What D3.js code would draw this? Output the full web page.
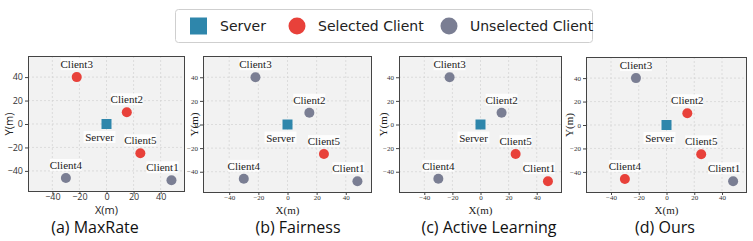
<!DOCTYPE html>
<html>
<head>
<meta charset="utf-8">
<script src="https://cdn.jsdelivr.net/npm/d3@7"></script>
<style>
  body { margin: 0; background: #fff; }
  svg { display: block; }
</style>
</head>
<body>
<div id="chart"></div>
<script>
// client positions (metres)
var clientNames = ["Client1", "Client2", "Client3", "Client4", "Client5"];
var clientX = [48, 15, -22, -30, 25];
var clientY = [-48, 10, 40, -46, -25];
var serverPos = [0, 0];

// which clients each method picks
var methods = ["(a) MaxRate", "(b) Fairness", "(c) Active Learning", "(d) Ours"];
var selected = [
  ["Client2", "Client3", "Client5"],
  ["Client5"],
  ["Client1", "Client5"],
  ["Client2", "Client4", "Client5"]
];
var ticks = [-40, -20, 0, 20, 40];
var legendLabels = ["Server", "Selected Client", "Unselected Client"];

var serverColor = "#2e86ab";
var selColor = "#e8413a";
var unselColor = "#7a7e93";
var serif = "'Liberation Serif', 'DejaVu Serif', serif";
var sans = "'Open Sans', 'DejaVu Sans', sans-serif";

// panel boxes in pixels
var panels = [
  {l: 28, r: 185, t: 56, b: 192, font: sans, tickSize: 9, labSize: 11, ylab: 19},
  {l: 203, r: 372, t: 56, b: 193, font: serif, tickSize: 7, labSize: 11, ylab: 9},
  {l: 399, r: 562, t: 56, b: 193, font: serif, tickSize: 7, labSize: 11, ylab: 16},
  {l: 586, r: 747, t: 57, b: 193, font: serif, tickSize: 7, labSize: 11, ylab: 17}
];
var captionX = [95, 298, 489, 665];

var svg = d3.select("#chart").append("svg")
  .attr("width", 753).attr("height", 241);

// legend
var lg = svg.append("g");
lg.append("rect")
  .attr("x", 175.5).attr("y", 9.5).attr("width", 417).attr("height", 33)
  .attr("rx", 3).attr("fill", "#fff").attr("stroke", "#cfcfcf");
var legX = [190, 288, 440];
var legTextX = [220, 318, 470];
lg.append("rect").attr("x", legX[0]).attr("y", 17.5).attr("width", 17).attr("height", 17)
  .attr("fill", serverColor);
lg.append("circle").attr("cx", legX[1] + 9).attr("cy", 26).attr("r", 8.5).attr("fill", selColor);
lg.append("circle").attr("cx", legX[2] + 9).attr("cy", 26).attr("r", 8.5).attr("fill", unselColor);
lg.selectAll("text.leg")
  .data(legendLabels)
  .enter().append("text")
  .attr("class", "leg")
  .attr("x", (d, i) => legTextX[i])
  .attr("y", 31)
  .attr("font-family", "'DejaVu Sans', sans-serif")
  .attr("font-size", "14px")
  .attr("fill", "#222")
  .text(d => d);

methods.forEach(function(m, k) {
  var p = panels[k];
  var x = d3.scaleLinear().domain([-58, 58]).range([p.l, p.r]);
  var y = d3.scaleLinear().domain([-58, 58]).range([p.b, p.t]);
  var g = svg.append("g");

  g.append("rect")
    .attr("x", p.l).attr("y", p.t).attr("width", p.r - p.l).attr("height", p.b - p.t)
    .attr("fill", "#f2f2f2");

  // dashed grid
  g.selectAll("line.gx").data(ticks).enter().append("line")
    .attr("x1", d => x(d)).attr("x2", d => x(d)).attr("y1", p.t).attr("y2", p.b)
    .attr("stroke", "#d2d2d2").attr("stroke-width", 0.7).attr("stroke-dasharray", "2,2");
  g.selectAll("line.gy").data(ticks).enter().append("line")
    .attr("y1", d => y(d)).attr("y2", d => y(d)).attr("x1", p.l).attr("x2", p.r)
    .attr("stroke", "#d2d2d2").attr("stroke-width", 0.7).attr("stroke-dasharray", "2,2");

  var xAxis = g.append("g").attr("transform", "translate(0," + p.b + ")")
    .call(d3.axisBottom(x).tickValues(ticks).tickSize(2).tickPadding(0).tickFormat(d3.format("d")));
  var yAxis = g.append("g").attr("transform", "translate(" + p.l + ",0)")
    .call(d3.axisLeft(y).tickValues(ticks).tickSize(3).tickPadding(2).tickFormat(d3.format("d")));
  [xAxis, yAxis].forEach(function(a) {
    a.select(".domain").remove();
    a.selectAll("line").attr("stroke", "#444");
    a.selectAll("text").attr("font-family", p.font).attr("font-size", p.tickSize + "px").attr("fill", "#333");
  });

  g.append("rect")
    .attr("x", p.l + 0.5).attr("y", p.t + 0.5).attr("width", p.r - p.l - 1).attr("height", p.b - p.t - 1)
    .attr("fill", "none").attr("stroke", "#444").attr("stroke-width", 1);

  g.append("text")
    .attr("x", (p.l + p.r) / 2 + 0).attr("y", 214)
    .attr("text-anchor", "middle")
    .attr("font-family", p.font).attr("font-size", p.labSize + "px").attr("fill", "#222")
    .text("X(m)");
  g.append("text")
    .attr("transform", "translate(" + (p.l - p.ylab + 4) + "," + ((p.t + p.b) / 2) + ") rotate(-90)")
    .attr("text-anchor", "middle")
    .attr("font-family", p.font).attr("font-size", p.labSize + "px").attr("fill", "#222")
    .text("Y(m)");

  // clients
  var pts = clientNames.map((n, i) => ({name: n, x: clientX[i], y: clientY[i], sel: selected[k].indexOf(n) >= 0}));
  var labs = g.selectAll("g.lab").data(pts).enter().append("g").attr("class", "lab");
  labs.append("rect")
    .attr("x", d => x(d.x) + (d.name === "Client1" ? -9 : 0) - 16)
    .attr("y", d => y(d.y) - 19)
    .attr("width", 32).attr("height", 12)
    .attr("fill", "#fff").attr("opacity", 0.8);
  labs.append("text")
    .attr("x", d => x(d.x) + (d.name === "Client1" ? -9 : 0))
    .attr("y", d => y(d.y) - 9)
    .attr("text-anchor", "middle")
    .attr("font-family", serif).attr("font-size", "11px").attr("fill", "#222")
    .text(d => d.name);
  g.selectAll("circle.pt").data(pts).enter().append("circle")
    .attr("class", "pt")
    .attr("cx", d => x(d.x)).attr("cy", d => y(d.y)).attr("r", 5)
    .attr("fill", d => d.sel ? selColor : unselColor);

  // server
  g.append("rect")
    .attr("x", x(serverPos[0]) - 5).attr("y", y(serverPos[1]) - 5)
    .attr("width", 10).attr("height", 10).attr("fill", serverColor);
  g.append("rect")
    .attr("x", x(serverPos[0]) - 23).attr("y", y(serverPos[1]) + 7)
    .attr("width", 32).attr("height", 12).attr("fill", "#fff").attr("opacity", 0.8);
  g.append("text")
    .attr("x", x(serverPos[0]) - 7).attr("y", y(serverPos[1]) + 17)
    .attr("text-anchor", "middle")
    .attr("font-family", serif).attr("font-size", "11px").attr("fill", "#222")
    .text("Server");

  svg.append("text")
    .attr("x", captionX[k]).attr("y", 233)
    .attr("text-anchor", "middle")
    .attr("font-family", sans).attr("font-size", "16px").attr("fill", "#111")
    .text(m);
});
</script>
</body>
</html>
